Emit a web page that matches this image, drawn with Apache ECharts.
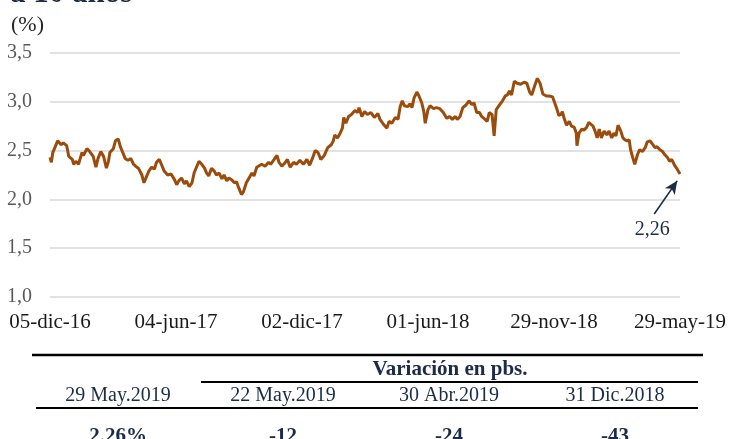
<!DOCTYPE html>
<html><head><meta charset="utf-8">
<script src="https://cdn.jsdelivr.net/npm/echarts@6/dist/echarts.min.js"></script>
<style>html,body{margin:0;padding:0;background:#fff}#c{width:730px;height:439px}</style>
</head><body><div id="c"></div>
<script>
// Days since 05-dic-2016
const days = [0,2,4,11,16,19,24,27,32,34,37,41,43,46,48,53,57,62,66,69,73,77,81,84,86,91,94,98,101,104,108,112,116,120,123,127,132,135,139,142,146,150,153,157,160,164,169,174,179,182,185,189,193,196,200,204,207,211,214,218,222,225,228,232,236,239,243,247,250,254,257,261,265,268,271,275,278,282,286,290,293,
297,304,309,314,317,322,326,329,333,337,341,345,350,354,359,364,369,373,377,381,385,389,394,399,404,407,409,413,417,420,422,425,429,433,438,442,444,448,452,456,461,466,471,474,479,484,487,491,496,500,503,506,509,514,517,520,523,527,530,534,537,539,543,546,551,555,560,
565,570,574,578,582,585,589,593,598,602,606,609,613,617,620,625,628,631,635,637,638,641,645,650,654,657,660,663,667,671,676,681,685,689,692,696,700,704,708,713,717,722,725,728,731,734,736,739,742,746,749,753,756,757,760,764,767,771,774,777,780,783,786,789,792,796,800,803,807,810,813,816,820,823,826,829,832,834,837,840,844,847,851,855,858,862,866,869,872,876,880,883,887,890,893,895,898,901,905];
// 10-year yield (%)
const yields = [2.43,2.38,2.48,2.60,2.56,2.58,2.55,2.44,2.41,2.36,2.39,2.36,2.41,2.48,2.45,2.52,2.49,2.44,2.33,2.42,2.49,2.44,2.32,2.39,2.48,2.52,2.60,2.62,2.54,2.49,2.42,2.40,2.42,2.36,2.34,2.32,2.25,2.17,2.24,2.29,2.33,2.31,2.38,2.41,2.36,2.29,2.25,2.26,2.20,2.15,2.19,2.22,2.16,2.19,2.13,2.17,2.27,2.34,2.39,2.36,2.32,2.27,2.24,2.32,2.29,2.25,2.27,2.21,2.25,2.19,2.22,2.20,2.17,2.18,2.12,2.05,2.08,2.17,2.22,2.27,2.24,
2.33,2.36,2.34,2.38,2.36,2.41,2.45,2.38,2.34,2.37,2.41,2.33,2.38,2.36,2.40,2.36,2.41,2.35,2.42,2.50,2.48,2.41,2.45,2.53,2.56,2.60,2.66,2.63,2.68,2.73,2.84,2.78,2.85,2.87,2.91,2.89,2.94,2.85,2.90,2.87,2.89,2.84,2.88,2.82,2.77,2.73,2.80,2.78,2.84,2.82,2.95,3.01,2.96,2.95,2.98,2.94,3.04,3.10,3.06,2.99,2.90,2.78,2.92,2.96,2.93,2.94,2.93,
2.89,2.83,2.85,2.82,2.85,2.82,2.85,2.94,2.97,3.01,2.97,2.99,2.89,2.89,2.85,2.82,2.80,2.89,2.87,2.89,2.65,2.92,2.96,3.01,3.06,3.07,3.11,3.07,3.21,3.19,3.18,3.20,3.19,3.10,3.07,3.16,3.24,3.19,3.08,3.06,3.06,3.05,2.99,2.93,2.86,2.87,2.90,2.82,2.76,2.80,2.75,2.74,2.68,2.55,2.68,2.72,2.71,2.74,2.79,2.77,2.75,2.70,2.63,2.72,2.63,2.70,2.66,2.70,2.63,2.68,2.65,2.76,2.70,2.63,2.61,2.60,2.61,2.51,2.43,2.36,2.46,2.51,2.49,2.53,2.59,2.60,2.56,2.53,2.54,2.51,2.49,2.46,2.43,2.39,2.41,2.41,2.34,2.31,2.26];
const xTickLabels = ['05-dic-16','04-jun-17','02-dic-17','01-jun-18','29-nov-18','29-may-19'];
const xTickStep = 181;
const xMax = 905;
const yMin = 1.0, yMax = 3.5, yStep = 0.5;
const lastLabel = '2,26';
const titleText = 'a 10 años';
const unitText = '(%)';
const tableTitle = 'Variación en pbs.';
const tableHeaders = ['29 May.2019','22 May.2019','30 Abr.2019','31 Dic.2018'];
const tableValues = ['2.26%','-12','-24','-43'];

const FONT = 'Liberation Serif';
const NAVY = '#1c2b47';
const colX = [118, 283, 449, 615];

const chart = echarts.init(document.getElementById('c'), null, {renderer:'canvas'});
const graphic = [
  {type:'text', x:10, y:-6, style:{text:titleText, font:'bold 31px "'+FONT+'"', fill:NAVY, verticalAlign:'middle'}},
  {type:'text', x:11, y:25, style:{text:unitText, font:'22px "'+FONT+'"', fill:'#262626', verticalAlign:'middle'}},
  {type:'line', shape:{x1:32,y1:355,x2:703,y2:355}, style:{stroke:'#000',lineWidth:2.5}},
  {type:'line', shape:{x1:201,y1:382,x2:698,y2:382}, style:{stroke:'#000',lineWidth:2}},
  {type:'line', shape:{x1:36,y1:408,x2:698,y2:408}, style:{stroke:'#000',lineWidth:2}},
  {type:'text', x:450, y:370, style:{text:tableTitle, font:'bold 21px "'+FONT+'"', fill:NAVY, align:'center', verticalAlign:'middle'}}
];
tableHeaders.forEach((t,i)=>graphic.push({type:'text', x:colX[i], y:396, style:{text:t, font:'20px "'+FONT+'"', fill:NAVY, align:'center', verticalAlign:'middle'}}));
tableValues.forEach((t,i)=>graphic.push({type:'text', x:colX[i], y:437, style:{text:t, font:'bold 21px "'+FONT+'"', fill:NAVY, align:'center', verticalAlign:'middle'}}));

chart.setOption({
  animation:false,
  backgroundColor:'#fff',
  grid:{left:50, right:50, top:53, bottom:142},
  xAxis:{type:'value', min:0, max:xMax, interval:xTickStep,
    axisLine:{show:false}, axisTick:{show:false}, splitLine:{show:false},
    axisLabel:{color:'#1a1a1a', fontSize:21, fontFamily:FONT, margin:15, showMinLabel:true, showMaxLabel:true,
      formatter:v=>xTickLabels[Math.round(v/xTickStep)]||''}},
  yAxis:{type:'value', min:yMin, max:yMax, interval:yStep,
    axisLine:{show:false}, axisTick:{show:false},
    splitLine:{lineStyle:{color:'#d9d9d9', width:1.5}},
    axisLabel:{color:'#595959', fontSize:20, fontFamily:FONT, margin:18,
      formatter:v=>v.toFixed(1).replace('.',',')}},
  series:[{
    type:'line', data:days.map((d,i)=>[d,yields[i]]), showSymbol:false,
    lineStyle:{color:'#9b4c0c', width:3}, itemStyle:{color:'#9b4c0c'},
    markLine:{silent:true, symbol:['none','arrow'], symbolSize:[9,13],
      lineStyle:{color:NAVY, width:1.6, type:'solid'}, label:{show:false},
      data:[[{coord:[868,1.85]},{coord:[901,2.19]}]]},
    markPoint:{silent:true, data:[{coord:[865,1.69], symbol:'rect', symbolSize:1,
      itemStyle:{color:'rgba(0,0,0,0)'},
      label:{show:true, position:'inside', formatter:lastLabel, color:NAVY, fontSize:20, fontFamily:FONT}}]}
  }],
  graphic:graphic
});
</script></body></html>
